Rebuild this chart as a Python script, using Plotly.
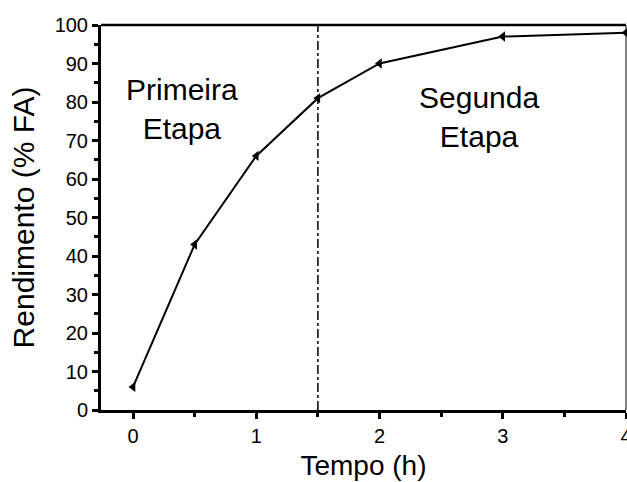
import plotly.graph_objects as go

tempo = [0, 0.5, 1, 1.5, 2, 3, 4]
rendimento = [6, 43, 66, 81, 90, 97, 98]
x_ticks = [0, 1, 2, 3, 4]
y_ticks = [0, 10, 20, 30, 40, 50, 60, 70, 80, 90, 100]
etapa_limite = 1.5

FONT = "Liberation Sans, Arial, sans-serif"

fig = go.Figure()
fig.add_trace(go.Scatter(
    x=tempo, y=rendimento, mode="lines+markers",
    line=dict(color="black", width=2),
    marker=dict(symbol="triangle-left", size=9, color="black"),
    cliponaxis=False, showlegend=False,
))

fig.add_shape(type="line", xref="x", yref="paper", x0=etapa_limite, x1=etapa_limite,
              y0=0, y1=1, line=dict(color="black", width=1.5, dash="dashdot"))
# top and right borders
fig.add_shape(type="line", xref="paper", yref="paper", x0=0, x1=1, y0=1, y1=1,
              line=dict(color="black", width=2.5))
fig.add_shape(type="line", xref="paper", yref="paper", x0=1, x1=1, y0=0, y1=1,
              line=dict(color="black", width=1))

fig.add_annotation(x=0.4, y=78.3, xref="x", yref="y", text="Primeira<br>Etapa",
                   showarrow=False, font=dict(family=FONT, size=30, color="black"))
fig.add_annotation(x=2.81, y=76, xref="x", yref="y", text="Segunda<br>Etapa",
                   showarrow=False, font=dict(family=FONT, size=30, color="black"))

axis_common = dict(
    showline=True, linecolor="black", linewidth=3, ticks="outside",
    tickcolor="black", tickwidth=2.5, ticklen=6, showgrid=False, zeroline=False,
)
fig.update_xaxes(range=[-0.26, 4.0], tickvals=x_ticks, ticklabeloverflow="allow",
                 tickfont=dict(family=FONT, size=20, color="black"),
                 minor=dict(dtick=0.5, ticks="outside", ticklen=4, tickwidth=2.5, tickcolor="black"),
                 title=dict(text="Tempo (h)", font=dict(family=FONT, size=28, color="black"), standoff=10),
                 **axis_common)
fig.update_yaxes(range=[0, 100], tickvals=y_ticks,
                 tickfont=dict(family=FONT, size=20, color="black"),
                 minor=dict(dtick=5, ticks="outside", ticklen=4, tickwidth=2.5, tickcolor="black"),
                 title=dict(text="Rendimento (% FA)", font=dict(family=FONT, size=30, color="black"), standoff=12),
                 **axis_common)

fig.update_layout(width=627, height=482, margin=dict(l=101, r=1, t=25, b=72, autoexpand=False),
                  plot_bgcolor="white", paper_bgcolor="white")
fig.write_html("out.html")
